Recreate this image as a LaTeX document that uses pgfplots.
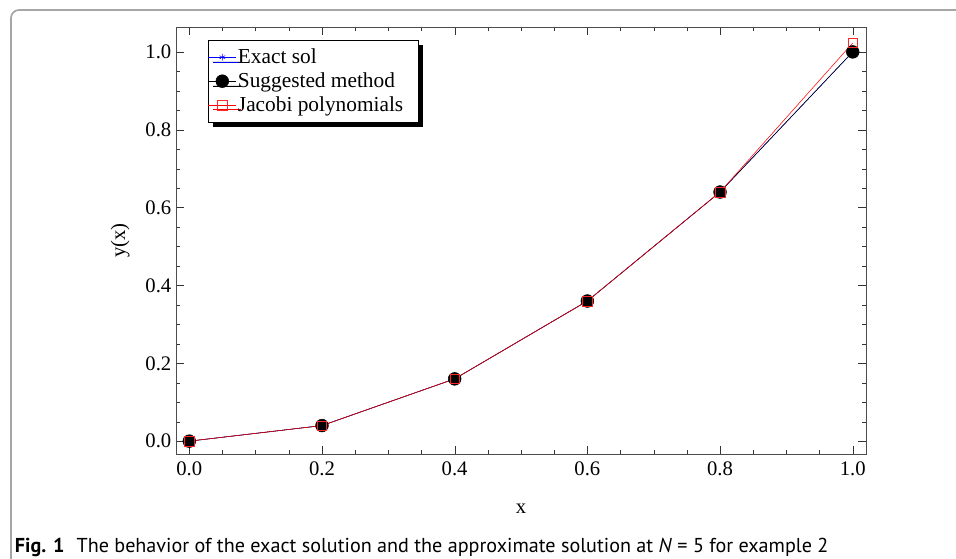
\documentclass[border=0pt]{standalone}
\usepackage{pgfplots}
\pgfplotsset{compat=1.18}
\usepackage{fontspec}
\setmainfont{Liberation Serif}
\newfontfamily\capfont{PT Sans}
\usetikzlibrary{shadows}
\begin{document}
\begin{tikzpicture}
\useasboundingbox (0,0) rectangle (717pt,419.25pt);
\draw[gray!70, line width=1.3pt, rounded corners=6pt] (8.25pt,-10pt) -- (8.25pt,411.75pt) -- (740pt,411.75pt);
\begin{axis}[
  at={(132pt,78.75pt)}, anchor=south west,
  scale only axis, width=517.5pt, height=320.25pt,
  xmin=-0.02, xmax=1.02, ymin=-0.033, ymax=1.064,
  xtick={0,0.2,...,1.0}, ytick={0,0.2,...,1.0},
  minor tick num=3,
  tick align=inside,
  major tick length=6pt, minor tick length=3pt,
  axis line style={black!70},
  tick style={black!80},
  /pgf/number format/assume math mode=true,
  tick label style={font=\fontsize{15.5}{18}\selectfont},
  xticklabel style={yshift=-2pt},
  xticklabel={\pgfmathprintnumber[fixed,fixed zerofill,precision=1]{\tick}},
  yticklabel={\pgfmathprintnumber[fixed,fixed zerofill,precision=1]{\tick}},
  xlabel={x}, ylabel={y(x)},
  label style={font=\fontsize{15.5}{18}\selectfont},
  xlabel style={at={(axis description cs:0.5,-0.129)}, anchor=center},
  ylabel style={at={(axis description cs:-0.081,0.5)}, anchor=center, rotate=0},
  legend style={at={(axis description cs:0.046,0.9696)}, anchor=north west,
    draw=black, fill=white, font=\fontsize{16}{18}\selectfont,
    inner xsep=0pt, inner ysep=4.5pt, row sep=1.3pt,
    nodes={inner xsep=1pt},
    drop shadow={shadow xshift=3.5pt, shadow yshift=-3.5pt, fill=black, opacity=1}},
  legend cell align=left,
  legend image code/.code={\draw[mark repeat=2,mark phase=2,#1] plot coordinates {(0cm,0cm) (0.37cm,0cm) (0.74cm,0cm)};},
]
\addplot[blue, thin, mark=asterisk, mark size=2.5pt, mark options={solid}] coordinates {
(0,0) (0.2,0.04) (0.4,0.16) (0.6,0.36) (0.8,0.64) (1.0,1.0)};
\addlegendentry{Exact sol}
\addplot[black, thin, mark=*, mark size=4.8pt] coordinates {
(0,0) (0.2,0.04) (0.4,0.16) (0.6,0.36) (0.8,0.64) (1.0,1.0)};
\addlegendentry{Suggested method}
\addplot[red, thin, mark=square, mark size=3.6pt, mark options={draw=red!85}] coordinates {
(0,0) (0.2,0.04) (0.4,0.16) (0.6,0.36) (0.8,0.64) (1.0,1.023)};
\addlegendentry{Jacobi polynomials\rule{10pt}{0pt}}
\end{axis}
\node[anchor=base west, inner sep=0pt, font=\capfont\fontsize{15.1}{18}\selectfont] at (11pt,5pt)
  {\textbf{Fig. 1}\hspace{0.6em}The behavior of the exact solution and the approximate solution at \textit{N} = 5 for example 2};
\end{tikzpicture}
\end{document}
